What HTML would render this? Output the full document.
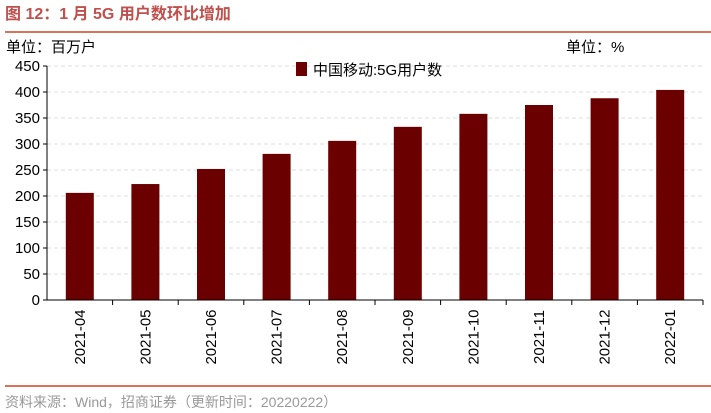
<!DOCTYPE html>
<html><head><meta charset="utf-8"><style>
body{margin:0;width:711px;height:413px;background:#fff;overflow:hidden;font-family:"Liberation Sans","Noto Sans CJK SC",sans-serif;}
</style></head><body>
<svg width="711" height="413" style="position:absolute;left:0;top:0">
<text x="5" y="19" font-size="16" font-weight="bold" fill="#c0504d">图 12：1 月 5G 用户数环比增加</text>
<line x1="5" y1="32" x2="711" y2="32" stroke="#d9735a" stroke-width="2"/>
<text x="6" y="52" font-size="15" fill="#000">单位：百万户</text>
<text x="566" y="52" font-size="15" fill="#000">单位：%</text>
<g id="grid"></g><g id="bars"></g><g id="axes"></g>
<rect x="296" y="62" width="11" height="14" fill="#6b0000"/>
<text x="313" y="75" font-size="15">中国移动:5G用户数</text>
<line x1="5" y1="386" x2="711" y2="386" stroke="#d9735a" stroke-width="2"/>
<text x="5" y="407" font-size="14" fill="#999">资料来源：Wind，招商证券（更新时间：20220222）</text>
</svg>
<script>
const categories=["2021-04","2021-05","2021-06","2021-07","2021-08","2021-09","2021-10","2021-11","2021-12","2022-01"];
const values=[206,223,252,281,306,333,358,375,388,404];
const yTicks=[0,50,100,150,200,250,300,350,400,450];
const NS="http://www.w3.org/2000/svg";
const x0=47,x1=703,yBase=300,yTop=66,yMax=450;
const step=(x1-x0)/categories.length;
const y=v=>yBase-(v/yMax)*(yBase-yTop);
function mk(t,a,p){const e=document.createElementNS(NS,t);for(const k in a)e.setAttribute(k,a[k]);document.getElementById(p).appendChild(e);return e;}
yTicks.forEach(t=>{
 if(t>0){const g=mk('line',{x1:x0,x2:x1,y1:y(t),y2:y(t),stroke:'#ddd','stroke-dasharray':'4,3'},'grid');
 
 }
 const tk=mk('line',{x1:x0-4,x2:x0,y1:y(t),y2:y(t),stroke:'#000'},'axes');
 
 
 const l=mk('text',{x:x0-7,y:y(t)+5,'font-size':15,'text-anchor':'end'},'axes');l.textContent=t;
 
 
});
categories.forEach((c,i)=>{
 const cx=x0+step*(i+0.5);
 const b=mk('rect',{x:cx-14,y:y(values[i]),width:28,height:yBase-y(values[i]),fill:'#6b0000'},'bars');
 
 
 const tk=mk('line',{x1:x0+step*(i+1),x2:x0+step*(i+1),y1:yBase,y2:yBase+5,stroke:'#000'},'axes');
 
 
 const l=mk('text',{x:0,y:0,'font-size':15,'text-anchor':'middle',transform:`translate(${cx+5},${yBase+37}) rotate(-90)`},'axes');l.textContent=c;
 
 
});
const ya=mk('line',{x1:x0,x2:x0,y1:yTop,y2:yBase,stroke:'#000'},'axes');


const xa=mk('line',{x1:x0-4,x2:x1,y1:yBase,y2:yBase,stroke:'#000'},'axes');


</script>
</body></html>
